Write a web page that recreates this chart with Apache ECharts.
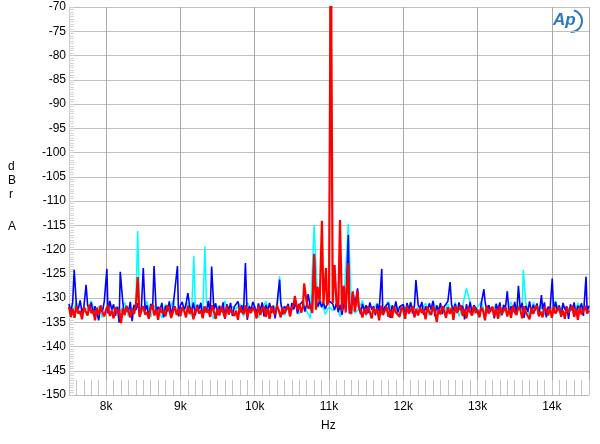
<!DOCTYPE html>
<html><head><meta charset="utf-8">
<script src="https://cdn.jsdelivr.net/npm/echarts@6/dist/echarts.min.js"></script>
<style>html,body{margin:0;padding:0;background:#fff}#c{width:600px;height:444px}</style>
</head><body><div id="c"></div>
<script>
// ---- data ----
const xTickLabels = ['8k','9k','10k','11k','12k','13k','14k'];
const yTickLabels = ['-70','-75','-80','-85','-90','-95','-100','-105','-110','-115','-120','-125','-130','-135','-140','-145','-150'];
const binStartHz = 7500;
const redStepHz = 25, blueStepHz = 25, cyanStepHz = 50;

const redNoise = [
-131.8,-133.9,-132.2,-134.1,-131.6,-133.2,-132.7,-134.4,-131.9,-132.8,-133.6,-131.4,-133.1,-132.5,-134.6,-132.0,-133.4,-131.7,-132.9,-133.8,
-132.3,-131.5,-133.7,-132.6,-134.2,-131.9,-133.0,-132.4,-135.2,-132.1,-133.5,-131.8,-132.7,-134.0,-132.2,-133.3,-131.6,-132.8,-133.9,-132.5,
-131.7,-133.4,-132.9,-134.3,-132.0,-131.4,-133.6,-132.3,-134.5,-131.9,-133.1,-132.6,-133.8,-131.5,-132.4,-134.1,-132.8,-131.7,-133.5,-132.2,
-133.7,-131.9,-132.6,-134.0,-131.6,-133.3,-132.1,-134.4,-132.7,-131.8,-133.2,-132.5,-134.2,-131.7,-133.0,-132.4,-133.9,-131.5,-132.8,-134.3,
-132.1,-133.6,-131.8,-132.9,-134.1,-131.6,-133.4,-132.3,-131.9,-133.7,-132.6,-134.5,-131.7,-132.8,-133.3,-131.5,-134.0,-132.2,-133.1,-131.9,
-132.7,-134.2,-131.6,-133.5,-132.4,-131.8,-133.9,-132.1,-134.3,-131.7,-132.9,-133.4,-131.5,-132.6,-134.0,-131.9,-133.2,-132.3,-131.6,-133.8,
-132.0,-131.4,-133.3,-132.5,-131.2,-133.0,-131.8,-132.6,-130.9,-132.2,-131.5,-133.1,-131.0,-132.4,-131.3,-130.8,-132.0,-131.2,-130.6,-131.5,
-130.4,-130.2,-131.0,-131.6,-130.8,-132.1,-131.3,-132.7,-131.6,-133.0,-131.9,-132.4,-133.3,-131.7,-132.8,-133.6,-131.8,-132.5,-134.0,-132.2,
-133.4,-131.7,-132.9,-134.2,-131.9,-133.1,-132.3,-134.6,-131.6,-133.5,-132.7,-131.8,-133.9,-132.4,-134.1,-131.7,-133.0,-132.6,-133.8,-131.9,
-132.5,-134.3,-131.6,-133.2,-132.8,-131.7,-134.0,-132.2,-133.6,-131.9,-133.1,-132.4,-134.4,-131.8,-132.9,-133.5,-131.6,-132.7,-134.9,-132.3,
-133.4,-131.7,-132.6,-134.1,-131.9,-133.3,-132.0,-134.5,-131.6,-133.0,-132.8,-131.5,-133.7,-132.3,-134.2,-131.8,-132.9,-133.6,-131.7,-133.1,
-132.4,-134.0,-131.9,-132.7,-134.6,-131.6,-133.2,-132.5,-131.8,-133.9,-132.1,-134.3,-131.7,-133.4,-132.6,-131.9,-133.8,-132.2,-134.1,-131.6,
-132.9,-133.5,-131.8,-132.4,-134.2,-131.7,-133.0,-132.6,-134.4,-131.9,-133.3,-132.1,-131.6,-133.7,-132.8,-134.0,-131.8,-132.5,-133.6,-132.0,
-134.1,-131.7,-133.2,-132.4,-131.9,-133.8,-132.6,-134.3,-131.8,-133.0,-132.7,-131.6,-133.9,-132.2,-134.5,-131.9,-133.4,-132.5,-131.7,-133.2,
-132.6];

const blueNoise = [
-131.2,-132.9,-130.8,-133.4,-131.6,-132.3,-130.5,-133.0,-131.9,-134.2,-131.4,-132.6,-130.9,-133.3,-131.7,-132.1,-134.6,-131.5,-132.8,-130.7,
-131.9,-133.2,-130.6,-132.4,-131.3,-133.7,-131.8,-135.1,-132.2,-131.0,-133.5,-131.6,-132.9,-130.8,-134.8,-131.4,-132.5,-131.1,-133.6,-131.8,
-130.9,-132.7,-131.5,-133.9,-131.2,-132.4,-130.6,-133.1,-131.8,-132.5,-131.0,-134.0,-131.6,-132.8,-130.7,-133.3,-131.9,-132.2,-131.3,-133.8,
-131.5,-130.8,-132.6,-131.2,-133.4,-131.7,-132.9,-130.9,-133.6,-131.4,-132.3,-131.0,-134.1,-131.8,-132.7,-130.6,-133.2,-131.5,-132.4,-131.1,
-133.5,-131.6,-132.8,-130.9,-134.3,-131.3,-132.5,-131.0,-133.7,-131.8,-132.2,-130.7,-133.0,-131.5,-132.9,-131.2,-134.5,-131.7,-132.4,-130.8,
-131.9,-133.3,-131.1,-132.6,-130.9,-133.8,-131.4,-132.7,-131.0,-133.1,-131.6,-134.2,-131.3,-132.5,-130.8,-133.4,-131.7,-132.2,-131.2,-133.6,
-131.0,-132.4,-130.7,-133.2,-131.5,-131.9,-130.6,-132.8,-131.3,-130.9,-132.1,-131.4,-133.0,-130.8,-131.7,-130.5,-131.9,-130.9,-132.3,-131.2,
-130.6,-130.3,-131.2,-132.5,-131.0,-132.9,-131.4,-133.5,-131.1,-132.4,-130.9,-133.2,-131.6,-134.0,-131.3,-132.7,-131.8,-133.3,-131.2,-132.6,
-131.5,-133.1,-130.9,-132.4,-131.7,-133.6,-131.2,-132.8,-130.8,-133.4,-131.9,-132.3,-131.0,-134.1,-131.5,-132.6,-130.7,-133.0,-131.8,-132.2,
-131.3,-133.7,-131.0,-132.5,-130.9,-133.2,-131.6,-134.3,-131.4,-132.1,-130.8,-133.5,-131.7,-132.9,-131.1,-132.4,-130.6,-133.8,-131.5,-132.7,
-131.0,-133.3,-131.8,-132.2,-130.7,-134.0,-131.4,-132.6,-131.2,-133.1,-130.9,-132.5,-131.6,-134.4,-131.3,-132.8,-130.8,-133.4,-131.5,-132.0,
-131.7,-133.9,-131.1,-132.3,-130.6,-133.0,-131.5,-132.7,-131.9,-134.2,-131.2,-132.5,-130.9,-133.6,-131.4,-132.1,-131.0,-133.3,-131.7,-132.8,
-130.8,-133.5,-131.3,-132.4,-131.0,-134.1,-131.6,-132.9,-130.7,-133.2,-131.4,-132.6,-131.1,-133.8,-131.5,-132.3,-130.9,-134.0,-131.8,-132.5,
-131.2,-133.1,-130.8,-132.7,-131.5,-133.9,-131.0,-132.4,-131.7,-134.3,-131.3,-132.6,-130.9,-133.5,-131.6,-132.2,-131.1,-133.7,-131.4,-132.8,
-131.6];

const cyanNoise = [
-131.4,-132.9,-130.8,-133.6,-131.9,-132.4,-130.6,-133.2,-131.7,-134.0,-132.3,-131.1,-133.5,-131.8,-132.7,-130.9,-133.8,-132.1,-131.5,-133.3,
-132.6,-130.7,-133.9,-131.6,-132.2,-134.1,-131.3,-132.8,-130.5,-133.4,-131.9,-132.5,-131.0,-133.7,-132.0,-131.4,-133.1,-130.8,-132.6,-134.3,
-131.7,-132.9,-130.6,-133.5,-131.8,-132.3,-131.2,-133.8,-130.9,-132.4,-131.6,-134.0,-132.1,-130.7,-133.2,-131.5,-132.8,-131.0,-133.6,-131.9,
-132.5,-130.8,-133.3,-131.4,-132.7,-134.2,-131.1,-132.0,-130.6,-133.4,-131.8,-132.6,-131.3,-133.9,-130.9,-132.2,-131.7,-133.1,-132.4,-130.5,
-133.7,-131.6,-132.3,-131.0,-133.5,-131.9,-130.7,-132.8,-131.2,-134.1,-131.5,-132.6,-130.8,-133.3,-131.8,-132.1,-131.1,-133.6,-130.6,-132.4,
-131.7,-133.0,-131.3,-132.9,-130.9,-133.8,-131.6,-132.2,-131.0,-133.4,-132.0,-130.7,-133.1,-131.5,-132.7,-131.2,-134.0,-131.8,-132.5,-130.8,
-133.2,-131.4,-132.6,-131.1,-133.7,-130.9,-132.3,-131.6,-133.5,-131.9,-132.1,-130.6,-133.0,-131.3,-132.8,-131.7,-133.6,-131.0,-132.4,-131.5,
-132.2];

// spikes: [frequency Hz, level dB]
const redSpikes = [[8425,-125.7],[10540,-129.6],[10665,-127.0],[10800,-120.9],[10845,-127.7],[10905,-114.1],[10960,-123.8],
  [11018,-75],[11021,-10],[11025,0],[11029,-10],[11032,-75],
  [11075,-123.2],[11148,-113.9],[11200,-127.5],[11260,-122.8],[11320,-128.7],[11385,-128.5]];
const blueSpikes = [[7570,-124.2],[7730,-127.3],[8010,-124.0],[8190,-124.6],[8500,-123.8],[8645,-123.4],[8960,-123.4],[9100,-129.0],
  [9420,-123.5],[9875,-122.8],[10335,-126.2],[10720,-129.2],[10800,-121.0],[11260,-117.0],[11320,-128.7],[11385,-128.0],[11710,-124.0],
  [12170,-126.3],[12630,-126.7],[13085,-128.2],[13400,-128.6],[13550,-127.5],[13860,-129.4],[14005,-126.0],[14460,-125.6]];
const cyanSpikes = [[8425,-116.2],[9180,-121.3],[9330,-119.4],[10335,-125.5],[10800,-115.0],[11260,-114.7],[12850,-128.0],[13615,-124.2]];

function merge(noise, step, spikes) {
  const pts = [];
  noise.forEach((v, i) => {
    const f = binStartHz + i * step;
    if (!spikes.some(s => Math.abs(s[0] - f) <= 10)) pts.push([f, v]);
  });
  spikes.forEach(s => pts.push([s[0], s[1]]));
  pts.sort((a, b) => a[0] - b[0]);
  return pts;
}

const font = "'Liberation Sans', Arial, sans-serif";
const chart = echarts.init(document.getElementById('c'), null, {renderer: 'canvas'});
chart.setOption({
  animation: false,
  backgroundColor: '#fff',
  grid: {left: 69, right: 11, top: 7, bottom: 49, containLabel: false},
  xAxis: {
    type: 'value', min: 7500, max: 14500, splitNumber: 7,
    axisLine: {show: true, lineStyle: {color: '#b8b8b8', width: 1}},
    axisTick: {show: true, inside: true, length: 15, lineStyle: {color: '#c4c4c4'}},
    minorTick: {show: true, splitNumber: 10, length: 15, lineStyle: {color: '#c4c4c4'}},
    splitLine: {show: true, lineStyle: {color: '#a8a8a8', width: 1}},
    axisLabel: {
      color: '#000', fontFamily: font, fontSize: 12, margin: 6,
      showMinLabel: false, showMaxLabel: false,
      formatter: v => { const i = Math.round(v / 1000) - 8; return (v % 1000 === 0 && i >= 0 && i < xTickLabels.length) ? xTickLabels[i] : ''; }
    }
  },
  yAxis: {
    type: 'value', min: -150, max: -70, interval: 5,
    axisLine: {show: true, lineStyle: {color: '#c8c8c8'}},
    axisTick: {show: true, inside: true, length: 5, lineStyle: {color: '#cfcfcf'}},
    minorTick: {show: true, splitNumber: 10, length: 5, lineStyle: {color: '#d4d4d4'}},
    splitLine: {show: true, lineStyle: {color: '#c0c0c0', width: 1}},
    axisLabel: {
      color: '#000', fontFamily: font, fontSize: 12, margin: 3,
      formatter: v => { const i = Math.round((-70 - v) / 5); return yTickLabels[i] !== undefined ? yTickLabels[i] : ''; }
    }
  },
  series: [
    {name: 'cyan', type: 'line', data: merge(cyanNoise, cyanStepHz, cyanSpikes), symbol: 'none', clip: true,
     lineStyle: {color: '#00ffff', width: 1.5}},
    {name: 'blue', type: 'line', data: merge(blueNoise, blueStepHz, blueSpikes), symbol: 'none', clip: true,
     lineStyle: {color: '#0000ff', width: 1.6}},
    {name: 'red', type: 'line', data: merge(redNoise, redStepHz, redSpikes), symbol: 'none', clip: true,
     lineStyle: {color: '#ff0000', width: 2.2}}
  ],
  graphic: [
    {type: 'text', left: 8, top: 161, style: {text: 'd', fontFamily: font, fontSize: 12, fill: '#000'}},
    {type: 'text', left: 8, top: 175, style: {text: 'B', fontFamily: font, fontSize: 12, fill: '#000'}},
    {type: 'text', left: 9, top: 189, style: {text: 'r', fontFamily: font, fontSize: 12, fill: '#000'}},
    {type: 'text', left: 8, top: 221, style: {text: 'A', fontFamily: font, fontSize: 12, fill: '#000'}},
    {type: 'text', left: 321, top: 420, style: {text: 'Hz', fontFamily: font, fontSize: 12, fill: '#000'}},
    {type: 'text', left: 553, top: 12, style: {text: 'Ap', fontFamily: font, fontSize: 17, fontStyle: 'italic', fontWeight: 'bold', fill: '#2a78c0'}},
    {type: 'arc', shape: {cx: 571, cy: 21, r: 11, startAngle: -1.3, endAngle: 1.6}, style: {stroke: '#2a78c0', lineWidth: 2, fill: null}}
  ]
});
</script></body></html>
